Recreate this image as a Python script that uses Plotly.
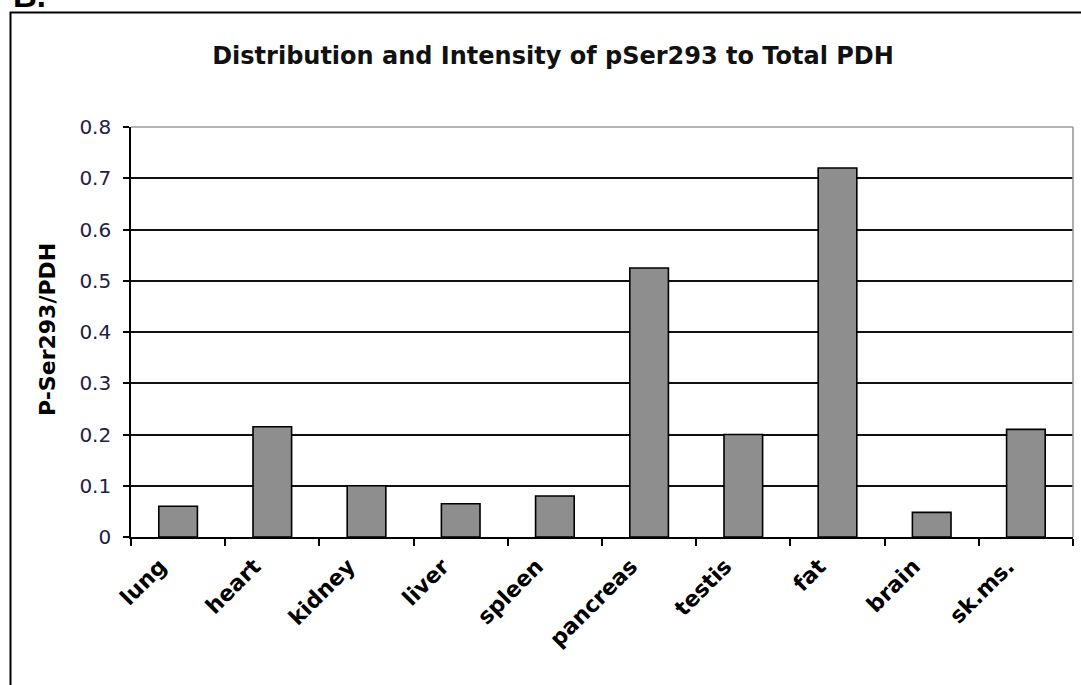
import plotly.graph_objects as go

# Tissue panel and pSer293 / total PDH ratio
tissues = ["lung", "heart", "kidney", "liver", "spleen",
           "pancreas", "testis", "fat", "brain", "sk.ms."]
ratio = [0.06, 0.215, 0.10, 0.065, 0.08, 0.525, 0.20, 0.72, 0.048, 0.21]
y_ticks = [0, 0.1, 0.2, 0.3, 0.4, 0.5, 0.6, 0.7, 0.8]
y_tick_text = ["0", "0.1", "0.2", "0.3", "0.4", "0.5", "0.6", "0.7", "0.8"]

W, H = 1081, 685
L, R, T, B = 131, 8, 127, 148
PW, PH = W - L - R, H - T - B


def px(x):
    return (x - L) / PW


def py(y):
    return (H - B - y) / PH


FONT = "DejaVu Sans"

fig = go.Figure(
    go.Bar(
        x=tissues,
        y=ratio,
        marker=dict(color="#8e8e8e", line=dict(color="#000000", width=1.6)),
    )
)

fig.update_layout(
    width=W,
    height=H,
    margin=dict(l=L, r=R, t=T, b=B),
    paper_bgcolor="white",
    plot_bgcolor="white",
    bargap=0.59,
    showlegend=False,
    title=dict(
        text="<b>Distribution and Intensity of pSer293 to Total PDH</b>",
        font=dict(family=FONT, size=24, color="#111111"),
        xref="paper", x=px(553), xanchor="center",
        yref="container", y=1 - 56 / H, yanchor="middle",
    ),
    xaxis=dict(
        type="category",
        tickson="boundaries",
        ticks="outside", ticklen=7, tickwidth=1.5, tickcolor="#000000",
        showline=True, linecolor="#000000", linewidth=1.6,
        showgrid=False,
        tickangle=-45,
        ticklabelshift=-18,
        ticklabelstandoff=6,
        tickfont=dict(family=FONT, size=22, color="#000000", weight="bold"),
    ),
    yaxis=dict(
        range=[0, 0.8],
        tickvals=y_ticks, ticktext=y_tick_text,
        ticks="outside", ticklen=6, tickwidth=1.5, tickcolor="#000000",
        showline=True, linecolor="#000000", linewidth=1.6,
        showgrid=True, gridcolor="#111111", gridwidth=1.5,
        zeroline=False,
        ticklabelstandoff=8,
        tickfont=dict(family=FONT, size=20, color="#1e2048"),
    ),
    annotations=[
        dict(
            text="<b>P-Ser293/PDH</b>", textangle=-90,
            font=dict(family=FONT, size=22, color="#000000"),
            xref="paper", yref="paper", x=px(47), y=py(330),
            xanchor="center", yanchor="middle", showarrow=False,
        ),
        dict(
            text="<b>B.</b>",
            font=dict(family="Liberation Sans", size=33, color="#000000"),
            xref="paper", yref="paper", x=px(11), y=py(-4),
            xanchor="left", yanchor="middle", showarrow=False,
        ),
    ],
    shapes=[
        # outer panel frame
        dict(type="rect", xref="paper", yref="paper",
             x0=px(10.5), x1=px(1100), y0=py(700), y1=py(12.5),
             line=dict(color="#000000", width=2), layer="above"),
        # plot area border (top and right)
        dict(type="line", xref="paper", yref="paper",
             x0=0, x1=1, y0=1, y1=1,
             line=dict(color="#9a9a9a", width=1.6), layer="above"),
        dict(type="line", xref="paper", yref="paper",
             x0=1, x1=1, y0=0, y1=1,
             line=dict(color="#9a9a9a", width=1.6), layer="above"),
    ],
)

fig.write_html("out.html")
